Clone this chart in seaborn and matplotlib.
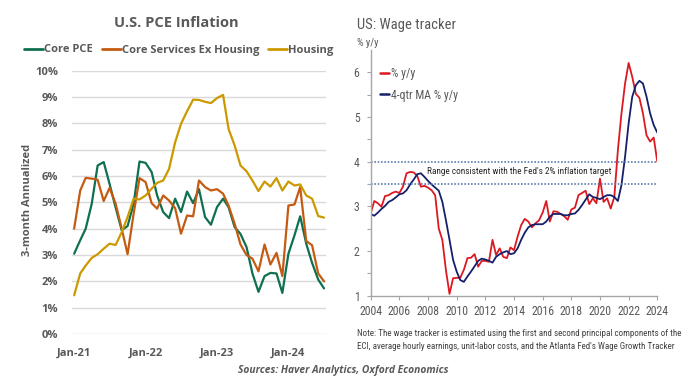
import os
import numpy as np
import pandas as pd
import matplotlib
matplotlib.use("Agg")
import matplotlib.pyplot as plt
import matplotlib.dates as mdates
import matplotlib.font_manager as fm
import seaborn as sns

# -----------------------------
# data: left panel (monthly, Jan-21 .. Jul-24, % 3-month annualized)
# -----------------------------
months = pd.date_range("2021-01-01", periods=43, freq="MS")
core_pce = [3.05, 3.56, 4.0, 4.95, 6.4, 6.53, 5.7, 4.8, 3.94, 4.1,
            4.95, 6.55, 6.5, 6.15, 5.26, 4.63, 4.4, 5.14, 4.63, 5.41,
            4.97, 5.5, 4.44, 4.15, 4.82, 5.14, 4.82, 4.06, 3.8, 3.3,
            2.3, 1.6, 2.2, 2.32, 2.3, 1.56, 3.05, 3.75, 4.47, 3.43,
            2.7, 2.07, 1.73]
core_svc_ex_housing = [4.0, 5.45, 5.93, 5.9, 5.86, 5.05, 5.55, 4.95, 4.0, 3.03,
                       4.57, 5.92, 5.77, 4.97, 4.76, 5.26, 5.07, 4.78, 3.81, 4.5,
                       4.47, 5.83, 5.58, 5.45, 5.5, 5.33, 4.88, 4.19, 3.4, 3.0,
                       2.86, 2.38, 3.4, 2.64, 3.08, 2.2, 4.88, 4.92, 5.58, 3.53,
                       3.37, 2.3, 2.0]
housing = [1.47, 2.3, 2.6, 2.89, 3.03, 3.24, 3.43, 3.38, 3.87, 4.44,
           5.14, 5.11, 5.26, 5.52, 5.74, 5.83, 6.27, 7.28, 7.98, 8.46,
           8.9, 8.89, 8.82, 8.77, 8.96, 9.08, 7.79, 7.16, 6.4, 6.18,
           5.83, 5.43, 5.79, 5.6, 5.92, 5.45, 5.79, 5.64, 5.68, 5.26,
           5.14, 4.48, 4.42]
left_series = ["Core PCE", "Core Services Ex Housing", "Housing"]
left_colors = ["#0E7050", "#C55A11", "#CC9900"]

# -----------------------------
# data: right panel (quarterly, 2004Q1 .. 2024Q1, % y/y)
# -----------------------------
quarters = pd.period_range("2004Q1", "2024Q1", freq="Q")
wage_yy = [2.84, 3.12, 3.07, 2.99, 3.23, 3.25, 3.30, 3.33,
           3.30, 3.44, 3.74, 3.77, 3.76, 3.68, 3.44, 3.46,
           3.42, 3.36, 3.25, 2.50, 2.25, 1.57, 1.04, 1.39,
           1.40, 1.40, 1.58, 1.84, 1.85, 1.93, 1.65, 1.78,
           1.78, 1.76, 2.25, 1.91, 2.06, 1.87, 1.84, 2.08,
           2.02, 2.32, 2.58, 2.72, 2.66, 2.53, 2.62, 2.69,
           2.86, 3.12, 2.66, 2.89, 2.88, 2.83, 2.78, 2.70,
           2.93, 2.97, 3.25, 3.30, 3.35, 3.05, 3.18, 3.07,
           3.62, 3.10, 3.18, 2.95, 3.21, 4.26, 5.08, 5.75,
           6.21, 5.90, 5.52, 5.43, 5.08, 4.59, 4.45, 4.54,
           4.00]
wage_ma = [2.83, 2.79, 2.86, 2.94, 3.01, 3.10, 3.14, 3.20,
           3.27, 3.29, 3.36, 3.49, 3.60, 3.72, 3.74, 3.66,
           3.57, 3.49, 3.42, 3.35, 3.10, 2.69, 2.25, 1.80,
           1.54, 1.35, 1.31, 1.43, 1.54, 1.66, 1.78, 1.83,
           1.81, 1.78, 1.74, 1.87, 1.93, 1.97, 2.00, 1.93,
           1.95, 2.06, 2.25, 2.41, 2.53, 2.58, 2.60, 2.60,
           2.60, 2.66, 2.77, 2.83, 2.83, 2.83, 2.80, 2.80,
           2.83, 2.84, 2.92, 3.03, 3.15, 3.27, 3.21, 3.19,
           3.16, 3.21, 3.25, 3.25, 3.21, 3.12, 3.48, 4.11,
           4.86, 5.45, 5.71, 5.81, 5.75, 5.45, 5.08, 4.82,
           4.65]
fed_range = [3.5, 4.0]

left_df = pd.DataFrame({"date": months, "Core PCE": core_pce,
                        "Core Services Ex Housing": core_svc_ex_housing,
                        "Housing": housing})
left_long = left_df.melt(id_vars="date", var_name="series", value_name="value")

qyear = quarters.year + (quarters.quarter - 1) / 4.0
right_df = pd.DataFrame({"year": qyear, "% y/y": wage_yy, "4-qtr MA % y/y": wage_ma})
right_long = right_df.melt(id_vars="year", var_name="series", value_name="value")


# -----------------------------
# a narrow font for the right panel, if one is installed
# -----------------------------
def pick_narrow():
    prefs = ["liberation sans narrow", "roboto condensed", "open sans condensed",
             "noto sans condensed", "dejavu sans condensed", "condensed", "narrow"]
    best, best_rank = None, len(prefs)
    for f in fm.fontManager.ttflist:
        label = (f.name + " " + os.path.basename(f.fname)).lower().replace("-", " ")
        if "mono" in label or "serif" in label or "bold" in label or "italic" in label \
                or "oblique" in label or "light" in label:
            continue
        if f.style != "normal":
            continue
        label = label + (" condensed" if str(f.stretch) in ("condensed", "semi-condensed") else "")
        for i, p in enumerate(prefs):
            if p in label and i < best_rank:
                best, best_rank = f.fname, i
    if best:
        return fm.FontProperties(fname=best)
    return fm.FontProperties(family="Liberation Sans")


narrow_fp = pick_narrow()


def nfp(size):
    fp = narrow_fp.copy()
    fp.set_size(size)
    return fp


# -----------------------------
# style
# -----------------------------
sns.set_theme(style="white")
plt.rcParams["font.family"] = ["Open Sans", "DejaVu Sans"]
gray = "#595959"

fig = plt.figure(figsize=(7, 3.9), dpi=100)
renderer = fig.canvas.get_renderer()


def fit_width(txt, target_px, max_size=None):
    w = txt.get_window_extent(renderer).width
    size = txt.get_fontsize() * target_px / w
    if max_size:
        size = min(size, max_size)
    txt.set_fontsize(size)


# -----------------------------
# left panel: U.S. PCE inflation
# -----------------------------
ax1 = fig.add_axes([72 / 700, 1 - 334 / 390, 254 / 700, 263.3 / 390])
sns.lineplot(data=left_long, x="date", y="value", hue="series",
             hue_order=left_series, palette=left_colors, linewidth=1.6,
             ax=ax1, legend=False)
ax1.set_ylim(0, 10)
ax1.set_xlim(pd.Timestamp("2020-12-21"), pd.Timestamp("2024-07-11"))
ax1.set_yticks(range(0, 11))
ax1.set_yticklabels([f"{v}%" for v in range(0, 11)])
ax1.xaxis.set_major_locator(mdates.MonthLocator(bymonth=1))
ax1.xaxis.set_major_formatter(mdates.DateFormatter("%b-%y"))
ax1.grid(axis="y", color="#D9D9D9", linewidth=1)
ax1.grid(axis="x", visible=False)
for s in ax1.spines.values():
    s.set_visible(False)
ax1.tick_params(axis="both", length=0, labelsize=8, colors=gray)
ax1.tick_params(axis="y", pad=10)
ax1.tick_params(axis="x", pad=10)
for lab in ax1.get_xticklabels() + ax1.get_yticklabels():
    lab.set_fontweight("bold")
ax1.set_xlabel("")
ax1.set_ylabel("")

handles = [plt.Line2D([], [], color=c, linewidth=2) for c in left_colors]
leg = ax1.legend(handles, left_series, ncol=3, frameon=False,
                 loc="center", bbox_to_anchor=(179 / 700, 1 - 50 / 390),
                 bbox_transform=fig.transFigure, handlelength=1.7,
                 handletextpad=0.1, columnspacing=0.8,
                 prop={"size": 8, "weight": "bold"})
for t in leg.get_texts():
    t.set_color(gray)

fig.text(176 / 700, 1 - 23 / 390, "U.S. PCE Inflation", ha="center", va="center",
         fontsize=10.5, fontweight="bold", color=gray)
fig.text(28 / 700, 1 - 200 / 390, "3-month Annualized", rotation=90,
         ha="center", va="center", fontsize=8, fontweight="bold", color=gray)

# -----------------------------
# right panel: US wage tracker
# -----------------------------
ax2 = fig.add_axes([370.7 / 700, 1 - 295.7 / 390, 286.6 / 700, 245.7 / 390])
sns.lineplot(data=right_long, x="year", y="value", hue="series",
             hue_order=["% y/y", "4-qtr MA % y/y"],
             palette=["#DC1820", "#14206B"], linewidth=1.3, ax=ax2, legend=False)
for lvl in fed_range:
    ax2.axhline(lvl, color="#5B7DB1", linestyle=(0, (1, 1)), linewidth=1.2)
range_txt = ax2.text(2014.35, np.mean(fed_range) + 0.02,
                     "Range consistent with the Fed's 2% inflation target",
                     ha="center", va="center", color="#262626", fontproperties=nfp(8))
fit_width(range_txt, 185, max_size=8)
ax2.set_xlim(2004, 2024)
ax2.set_ylim(1, 6.5)
ax2.set_xticks(range(2004, 2025, 2))
ax2.set_yticks(range(1, 7))
ax2.set_yticks(np.arange(1.5, 6.5, 1.0), minor=True)
for side in ["top", "right"]:
    ax2.spines[side].set_visible(False)
for side in ["left", "bottom"]:
    ax2.spines[side].set_color("#A6A6A6")
    ax2.spines[side].set_linewidth(1)
ax2.tick_params(axis="both", which="both", direction="out", length=3,
                width=0.8, color="#A6A6A6", labelcolor=gray,
                left=True, bottom=True)
ax2.tick_params(axis="y", pad=5)
ax2.tick_params(axis="x", pad=4)
for lab in ax2.get_xticklabels() + ax2.get_yticklabels():
    lab.set_fontproperties(nfp(8.5))
ax2.grid(False)
ax2.set_xlabel("")
ax2.set_ylabel("")
# keep the year labels about as wide as in the source
yr_w = max(l.get_window_extent(renderer).width for l in ax2.get_xticklabels())
if yr_w > 23:
    for lab in ax2.get_xticklabels():
        lab.set_fontsize(8.5 * 23 / yr_w)

rhandles = [plt.Line2D([], [], color=c, linewidth=1.8) for c in ["#DC1820", "#14206B"]]
rleg = ax2.legend(rhandles, ["% y/y", "4-qtr MA % y/y"], frameon=False,
                  loc="upper left", bbox_to_anchor=(-0.005, 0.975),
                  handlelength=0.8, handletextpad=0.1, labelspacing=0.75,
                  prop=nfp(8.5))
for t in rleg.get_texts():
    t.set_color(gray)

title_r = fig.text(357 / 700, 1 - 25 / 390, "US: Wage tracker", ha="left", va="center",
                   color=gray, fontproperties=nfp(11))
fit_width(title_r, 98, max_size=11)
fig.text(357 / 700, 1 - 43 / 390, "% y/y", ha="left", va="center",
         color=gray, fontproperties=nfp(7.5))
note = fig.text(357 / 700, 1 - 340 / 390,
                "Note: The wage tracker is estimated using the first and second principal components of the\n"
                "ECI, average hourly earnings, unit-labor costs, and the Atlanta Fed's Wage Growth Tracker",
                ha="left", va="center", color="#404040", fontproperties=nfp(7.5),
                linespacing=1.5)
fit_width(note, 325, max_size=7.5)

fig.text(343 / 700, 1 - 371 / 390, "Sources: Haver Analytics, Oxford Economics",
         ha="center", va="center", fontsize=7.4, fontstyle="italic",
         fontweight="bold", color=gray)

fig.savefig("out.png", dpi=100)
